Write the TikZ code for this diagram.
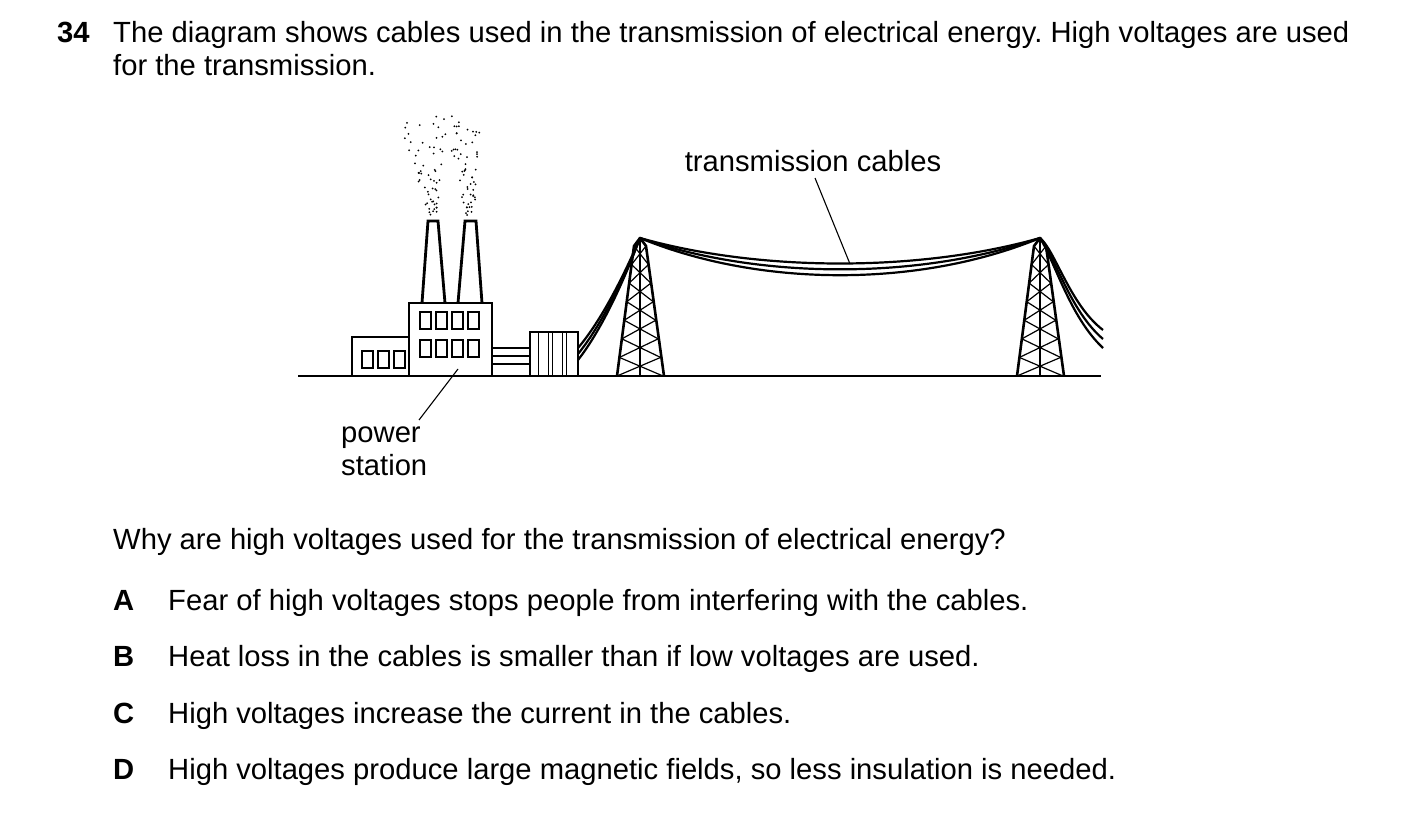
\documentclass[tikz,border=0pt]{standalone}
\usepackage{fontspec}
\setmainfont{Liberation Sans}
\begin{document}
\frenchspacing
\begin{tikzpicture}[x=1pt,y=-1pt,
  txt/.style={anchor=base west,inner sep=0pt,font=\fontsize{29.2}{35}\selectfont},
  thick line/.style={line width=2.8pt,line join=miter},
  thin line/.style={line width=1.4pt},
  cable/.style={line width=2.2pt}]
\useasboundingbox (0,0) rectangle (1403,834);
% text
\node[txt,font=\fontsize{29.2}{35}\selectfont\bfseries] (num) at (57,43) {34};
\node[txt] (l1) at (113,43) {The diagram shows cables used in the transmission of electrical energy. High voltages are used};
\node[txt] (l2) at (113,76) {for the transmission.};
\node[txt] (q) at (113,549) {Why are high voltages used for the transmission of electrical energy?};
\foreach \L/\T/\y in {A/Fear of high voltages stops people from interfering with the cables./610,
 B/Heat loss in the cables is smaller than if low voltages are used./666,
 C/High voltages increase the current in the cables./723,
 D/High voltages produce large magnetic fields{,} so less insulation is needed./779}{
  \node[txt,font=\fontsize{29.2}{35}\selectfont\bfseries] (opt\L) at (113,\y) {\L};
  \node[txt] (t\L) at (168,\y) {\T};
}
% ground
\draw[line width=2.4pt] (298,376) -- (1101,376);
% buildings
\draw[thick line] (352,376) -- (352,337) -- (409,337);
\draw[thick line] (409,376) -- (409,303) -- (492,303) -- (492,376);
% chimneys
\draw[thick line] (422,303) -- (428,221) -- (438,221) -- (445,303);
\draw[thick line] (458,303) -- (465,221) -- (476,221) -- (482,303);
% windows
\foreach \x in {420,436,452,468}{
  \draw[thin line] (\x,312) rectangle ++(11,17);
  \draw[thin line] (\x,340) rectangle ++(11,17);}
\foreach \x in {362,378,394}{\draw[thin line] (\x,351) rectangle ++(11,17);}
% pipes
\foreach \y in {348,356,364}{\draw[line width=2pt] (492,\y) -- (530,\y);}
% transformer
\draw[line width=2.4pt] (530,376) -- (530,332) -- (578,332) -- (578,376);
\foreach \x in {538,548,552,562,566}{\draw[line width=1pt] (\x,332) -- (\x,376);}
% pylons
\foreach \px in {640,1040}{
  \begin{scope}[shift={(\px,0)}]
  \draw[line width=2.6pt,line join=round] (-23,376) -- (-6,246) -- (0,238) -- (6,246) -- (24,376);
  \draw[line width=1.3pt] (0,238) -- (0,376);
  \foreach \i in {0,...,6}{
    \pgfmathsetmacro\ya{246+\i*130/7}
    \pgfmathsetmacro\yb{246+(\i+1)*130/7}
    \pgfmathsetmacro\wa{6+\i*17/7}
    \pgfmathsetmacro\wb{6+(\i+1)*17/7}
    \draw[line width=1.2pt] (-\wa,\ya) -- (\wb,\yb) (\wa,\ya) -- (-\wb,\yb);}
  \end{scope}}
% cables from transformer to pylon
\foreach \d in {0,5,10}{
  \draw[cable] (578,348+\d*1.2) .. controls (600,322+\d) and (622,280+\d*0.6) .. (640,238);}
% span cables
\foreach \d in {0,6,12}{
  \draw[cable] (640,238) .. controls (760,272+\d*1.3) and (920,272+\d*1.3) .. (1040,238);}
% right cables
\foreach \d in {0,6,12}{
  \draw[cable] (1040,238) .. controls (1055,250+\d) and (1070,305+\d) .. (1103,330+\d*1.5);}
% smoke
\pgfmathsetseed{7}
\foreach \k in {1,...,60}{
  \pgfmathsetmacro\t{rnd}
  \pgfmathsetmacro\yy{215-\t*100}
  \pgfmathsetmacro\xx{433-\t*12+(rnd-0.5)*(8+\t*45)}
  \fill (\xx,\yy) circle (1pt);}
\foreach \k in {1,...,60}{
  \pgfmathsetmacro\t{rnd}
  \pgfmathsetmacro\yy{215-\t*100}
  \pgfmathsetmacro\xx{470-\t*8+(rnd-0.5)*(8+\t*30)}
  \fill (\xx,\yy) circle (1pt);}
% labels
\node[inner sep=0pt,font=\fontsize{29.2}{35}\selectfont] (tc) at (813,161) {transmission cables};
\coordinate (tcend) at (850,264);
\draw[line width=1.1pt] (815,178) -- (tcend);
\node[inner sep=0pt,anchor=north west,align=left,font=\fontsize{29.2}{33}\selectfont] (ps) at (341,427) {power\\station};
\coordinate (psend) at (458,369);
\draw[line width=1.1pt] (419,420) -- (psend);
\end{tikzpicture}
\end{document}
